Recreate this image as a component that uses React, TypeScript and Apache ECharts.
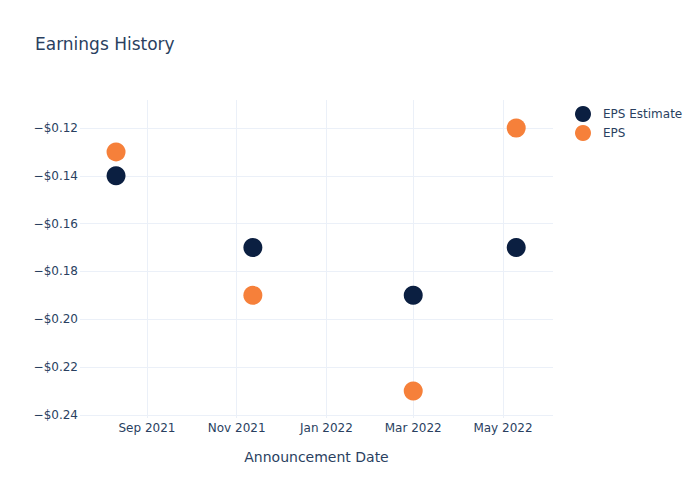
import React, { useEffect, useRef } from "react";
import * as echarts from "echarts";

const announcementDates: [number, number, number][] = [
  [2021, 7, 11],
  [2021, 10, 12],
  [2022, 2, 1],
  [2022, 4, 10],
];
const epsEstimate = [-0.14, -0.17, -0.19, -0.17];
const epsActual = [-0.13, -0.19, -0.23, -0.12];
const xTickDates: [number, number, number][] = [
  [2021, 8, 1],
  [2021, 10, 1],
  [2022, 0, 1],
  [2022, 2, 1],
  [2022, 4, 1],
];
const yTicks = [-0.24, -0.22, -0.2, -0.18, -0.16, -0.14, -0.12];
const MONTHS = ["Jan", "Feb", "Mar", "Apr", "May", "Jun", "Jul", "Aug", "Sep", "Oct", "Nov", "Dec"];

const ts = (d: [number, number, number], h = 0) => new Date(d[0], d[1], d[2], h).getTime();

export default function App() {
  const ref = useRef<HTMLDivElement>(null);
  useEffect(() => {
    if (!ref.current) return;
    const chart = echarts.init(ref.current, null, { renderer: "svg" });
    const textColor = "#2a3f5f";
    const gridColor = "#EBF0F8";
    const font = "'DejaVu Sans', sans-serif";
    chart.setOption({
      animation: false,
      backgroundColor: "#fff",
      textStyle: { fontFamily: font },
      title: {
        text: "Earnings History",
        left: 30,
        top: 30,
        textStyle: { color: textColor, fontSize: 17, fontWeight: "normal", fontFamily: font },
      },
      legend: {
        orient: "vertical",
        left: 570,
        top: 101,
        itemWidth: 30,
        itemHeight: 16,
        itemGap: 3,
        icon: "circle",
        textStyle: { color: textColor, fontSize: 12, fontFamily: font },
        data: ["EPS Estimate", "EPS"],
      },
      grid: { left: 80, right: 147, top: 100, bottom: 82, containLabel: false },
      xAxis: {
        type: "value",
        min: ts([2021, 6, 17], 12),
        max: ts([2022, 5, 4]),
        name: "Announcement Date",
        nameLocation: "middle",
        nameGap: 32,
        nameTextStyle: { color: textColor, fontSize: 14, fontFamily: font },
        axisLine: { show: false },
        axisTick: { show: false, customValues: xTickDates.map((d) => ts(d)) },
        splitLine: { show: true, lineStyle: { color: gridColor, width: 1 } },
        axisLabel: {
          customValues: xTickDates.map((d) => ts(d)),
          color: textColor,
          fontSize: 12,
          margin: 4,
          hideOverlap: false,
          formatter: (v: number) => {
            const d = new Date(v);
            return MONTHS[d.getMonth()] + " " + d.getFullYear();
          },
        },
      },
      yAxis: {
        type: "value",
        min: -0.2413,
        max: -0.1083,
        axisLine: { show: false },
        axisTick: { show: false, customValues: yTicks },
        splitLine: { show: true, lineStyle: { color: gridColor, width: 1 } },
        axisLabel: {
          customValues: yTicks,
          color: textColor,
          fontSize: 12,
          margin: 2,
          formatter: (v: number) => (v < 0 ? "\u2212" : "") + "$" + Math.abs(v).toFixed(2),
        },
      },
      series: [
        {
          name: "EPS Estimate",
          type: "scatter",
          symbolSize: 19,
          itemStyle: { color: "#0b1f41", opacity: 1 },
          data: announcementDates.map((d, i) => [ts(d), epsEstimate[i]]),
        },
        {
          name: "EPS",
          type: "scatter",
          symbolSize: 19,
          itemStyle: { color: "#f6803a", opacity: 1 },
          data: announcementDates.map((d, i) => [ts(d), epsActual[i]]),
        },
      ],
    });
    return () => chart.dispose();
  }, []);
  return <div ref={ref} style={{ width: 700, height: 500, marginLeft: -8, marginTop: -8 }} />;
}
